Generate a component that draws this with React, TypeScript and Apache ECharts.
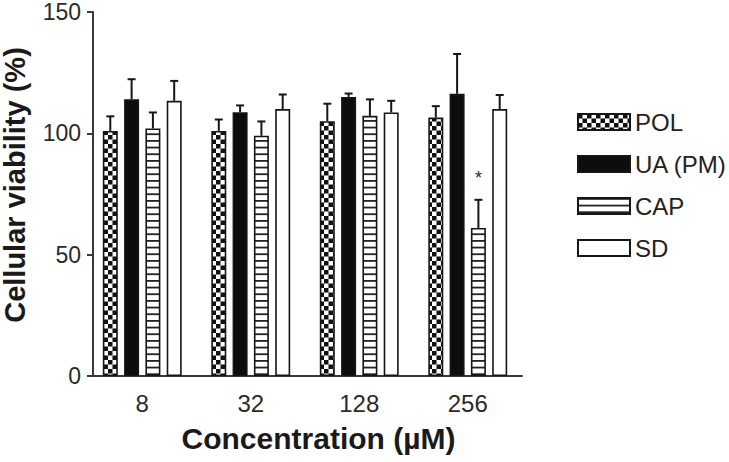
import React, { useEffect, useRef } from "react";
import * as echarts from "echarts";

// Concentration groups (µM)
const CATEGORIES = ["8", "32", "128", "256"];
const SERIES_NAMES = ["POL", "UA (PM)", "CAP", "SD"];

// Mean cellular viability (%) and upper error (SEM) for each treatment
const POL_MEAN = [101, 101, 105, 106.5];
const POL_ERR = [6, 4.7, 7.2, 4.7];
const UA_MEAN = [114, 108.7, 115, 116.3];
const UA_ERR = [8.3, 2.8, 1.4, 16.4];
const CAP_MEAN = [102, 99, 107.2, 61];
const CAP_ERR = [6.6, 5.9, 6.8, 11.6];
const SD_MEAN = [113.4, 110, 108.6, 110];
const SD_ERR = [8.2, 6, 4.8, 5.8];

// Significance markers drawn above the error bars
const POL_MARK = ["", "", "", ""];
const UA_MARK = ["", "", "", ""];
const CAP_MARK = ["", "", "", "*"];
const SD_MARK = ["", "", "", ""];

const Y_MIN = 0;
const Y_MAX = 150;
const Y_INTERVAL = 50;

const FONT = "'Liberation Sans', Arial, Helvetica, sans-serif";
const INK = "#161616";
const BAR_WIDTH = 15;
const BAR_GAP = 0.42;
const PITCH = BAR_WIDTH * (1 + BAR_GAP);

function checkerPattern() {
  const size = 9;
  const c = document.createElement("canvas");
  c.width = size;
  c.height = size;
  const ctx = c.getContext("2d")!;
  ctx.fillStyle = "#ffffff";
  ctx.fillRect(0, 0, size, size);
  ctx.fillStyle = "#111111";
  ctx.fillRect(0, 0, size / 2, size / 2);
  ctx.fillRect(size / 2, size / 2, size / 2, size / 2);
  return { image: c, repeat: "repeat" as const, imageWidth: size, imageHeight: size };
}

function stripePattern() {
  const w = 4;
  const h = 20;
  const c = document.createElement("canvas");
  c.width = w;
  c.height = h;
  const ctx = c.getContext("2d")!;
  ctx.fillStyle = "#ffffff";
  ctx.fillRect(0, 0, w, h);
  ctx.fillStyle = "#222222";
  const step = h / 3;
  for (let k = 0; k < 3; k++) {
    ctx.fillRect(0, k * step, w, 1.8);
  }
  return { image: c, repeat: "repeat" as const, imageWidth: w, imageHeight: h };
}

function errorSeries(slot: number, means: number[], errs: number[], marks: string[]) {
  return {
    type: "custom",
    z: 5,
    silent: true,
    encode: { x: 0, y: [1, 2] },
    data: means.map((m, i) => [i, m, m + errs[i]]),
    renderItem: (params: any, api: any) => {
      const i = api.value(0);
      const base = api.coord([i, api.value(1)]);
      const top = api.coord([i, api.value(2)]);
      const x = base[0] + (slot - 1.5) * PITCH;
      const style = { stroke: INK, lineWidth: 2 };
      const children: any[] = [
        { type: "line", shape: { x1: x, y1: base[1], x2: x, y2: top[1] }, style },
        { type: "line", shape: { x1: x - 4, y1: top[1], x2: x + 4, y2: top[1] }, style },
      ];
      const mark = marks[params.dataIndex];
      if (mark) {
        children.push({
          type: "text",
          x,
          y: top[1] - 22,
          style: {
            text: mark,
            fill: "#2a2a2a",
            font: `18px ${FONT}`,
            align: "center",
            verticalAlign: "middle",
          },
        });
      }
      return { type: "group", children };
    },
  };
}

export default function App() {
  const ref = useRef<HTMLDivElement>(null);

  useEffect(() => {
    if (!ref.current) return;
    const chart = echarts.init(ref.current, undefined, { renderer: "svg" });

    const fills = [checkerPattern(), "#0d0d0d", stripePattern(), "#ffffff"];
    const means = [POL_MEAN, UA_MEAN, CAP_MEAN, SD_MEAN];
    const errs = [POL_ERR, UA_ERR, CAP_ERR, SD_ERR];
    const marks = [POL_MARK, UA_MARK, CAP_MARK, SD_MARK];

    const bars = SERIES_NAMES.map((name, s) => ({
      name,
      type: "bar",
      data: means[s],
      barWidth: BAR_WIDTH,
      barGap: `${BAR_GAP * 100}%`,
      itemStyle: {
        color: fills[s] as any,
        borderColor: INK,
        borderWidth: 1.6,
      },
    }));

    chart.setOption({
      animation: false,
      backgroundColor: "#ffffff",
      textStyle: { fontFamily: FONT },
      grid: {
        left: 88,
        top: 12,
        width: 434,
        height: 364,
        outerBoundsMode: "none",
      },
      legend: {
        orient: "vertical",
        left: 572,
        top: 105,
        icon: "rect",
        itemWidth: 52,
        itemHeight: 16,
        itemGap: 18,
        data: SERIES_NAMES,
        textStyle: { fontSize: 24, color: "#222", fontFamily: FONT },
        selectedMode: false,
      },
      xAxis: {
        type: "category",
        data: CATEGORIES,
        name: "Concentration (µM)",
        nameLocation: "middle",
        nameGap: 47,
        nameTextStyle: {
          fontSize: 30,
          fontWeight: "bold",
          color: "#1a1a1a",
          fontFamily: FONT,
          padding: [0, 0, 0, 27],
        },
        axisLine: { lineStyle: { color: "#3a3a3a", width: 2 } },
        axisTick: { show: false },
        axisLabel: { fontSize: 24, color: "#2a2a2a", margin: 15, fontFamily: FONT },
      },
      yAxis: {
        type: "value",
        min: Y_MIN,
        max: Y_MAX,
        interval: Y_INTERVAL,
        offset: -5,
        name: "Cellular viability (%)",
        nameLocation: "middle",
        nameGap: 64,
        nameTextStyle: {
          fontSize: 29,
          fontWeight: "bold",
          color: "#1a1a1a",
          fontFamily: FONT,
          padding: [0, 0, 0, 18],
        },
        axisLine: { show: true, lineStyle: { color: "#3a3a3a", width: 2 } },
        axisTick: { show: true, length: 6, lineStyle: { color: "#3a3a3a", width: 2 } },
        axisLabel: { fontSize: 23, color: "#2a2a2a", margin: 12, fontFamily: FONT },
        splitLine: { show: false },
      },
      series: [
        ...bars,
        ...SERIES_NAMES.map((_, s) => errorSeries(s, means[s], errs[s], marks[s])),
      ],
    } as any);

    return () => chart.dispose();
  }, []);

  return (
    <div
      ref={ref}
      style={{ position: "fixed", left: 0, top: 0, width: 729, height: 462, background: "#fff" }}
    />
  );
}
